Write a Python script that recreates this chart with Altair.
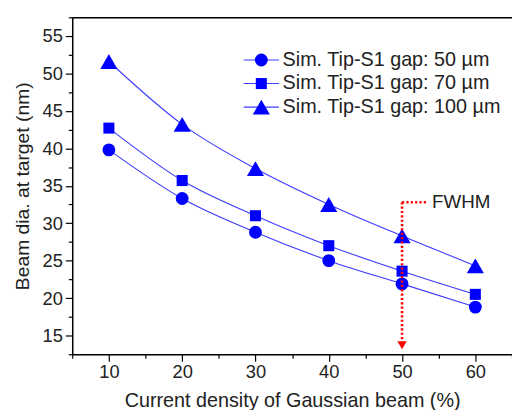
import altair as alt
import pandas as pd

# ---- data ----
x_vals = [10, 20, 30, 40, 50, 60]
series_names = ["Sim. Tip-S1 gap: 50 µm", "Sim. Tip-S1 gap: 70 µm", "Sim. Tip-S1 gap: 100 µm"]
gap50 = [39.8, 33.3, 28.8, 25.0, 21.9, 18.8]
gap70 = [42.7, 35.7, 31.0, 27.0, 23.6, 20.5]
gap100 = [51.6, 43.2, 37.3, 32.5, 28.3, 24.3]

fwhm_x = 50
fwhm_top = 32.8
fwhm_bottom = 14.3
fwhm_arrow = 13.7
fwhm_hline_end = 53.3
fwhm_label_x = 54.1
fwhm_label = "FWHM"

x_ticks = [5, 10, 15, 20, 25, 30, 35, 40, 45, 50, 55, 60, 65]
y_ticks = [12.5, 15, 17.5, 20, 22.5, 25, 27.5, 30, 32.5, 35, 37.5, 40, 42.5, 45, 47.5, 50, 52.5, 55, 57.5]

# legend key layout (data units, inside the plot, upper right)
legend_rows_y = [51.8, 48.65, 45.5]
legend_line_x = [28.4, 33.2]
legend_marker_x = 30.8
legend_text_x = 33.7

rows = []
for name, vals in zip(series_names, [gap50, gap70, gap100]):
    for xv, yv in zip(x_vals, vals):
        rows.append({"x": xv, "y": yv, "series": name})
df = pd.DataFrame(rows)

leg_df = pd.DataFrame({
    "series": series_names,
    "y": legend_rows_y,
    "x": [legend_marker_x] * 3,
    "x1": [legend_line_x[0]] * 3,
    "x2": [legend_line_x[1]] * 3,
    "tx": [legend_text_x] * 3,
})

BLUE = "#0000ff"
LINE_BLUE = "#3b3bff"
FONT = "Liberation Sans"
TXT = "#222222"

xscale = alt.Scale(domain=[5, 65], nice=False, zero=False)
yscale = alt.Scale(domain=[12.5, 57.5], nice=False, zero=False)

x_axis = alt.Axis(
    title="Current density of Gaussian beam (%)",
    values=x_ticks, tickCount=100, labelOverlap=False, labelFlush=False,
    format="d",
    labelExpr="datum.value % 10 === 0 ? datum.label : ''",
    tickSize=alt.condition("datum.value % 10 === 0", alt.value(7), alt.value(4)),
    grid=False, domainColor="black", domainWidth=1.5, tickColor="black", tickWidth=1.2,
    labelFont=FONT, labelFontSize=18.5, labelColor=TXT, labelPadding=2,
    titleFont=FONT, titleFontSize=20, titleFontWeight="normal", titleColor=TXT, titlePadding=9,
)
y_axis = alt.Axis(
    title="Beam dia. at target (nm)",
    values=y_ticks, tickCount=100, labelOverlap=False, labelFlush=False,
    format="d",
    labelExpr="datum.value % 5 === 0 ? datum.label : ''",
    tickSize=alt.condition("datum.value % 5 === 0", alt.value(7), alt.value(4)),
    grid=False, domainColor="black", domainWidth=1.5, tickColor="black", tickWidth=1.2,
    labelFont=FONT, labelFontSize=18.5, labelColor=TXT, labelPadding=3,
    titleFont=FONT, titleFontSize=19.5, titleFontWeight="normal", titleColor=TXT, titlePadding=10,
)
top_axis = alt.Axis(orient="top", title=None, labels=False, ticks=False, grid=False,
                    domainColor="black", domainWidth=1.5)

lines = alt.Chart(df).mark_line(interpolate="monotone", strokeWidth=1.1, color=LINE_BLUE).encode(
    x=alt.X("x:Q", scale=xscale, axis=x_axis),
    y=alt.Y("y:Q", scale=yscale, axis=y_axis),
    detail="series:N",
)

point_shapes = ["circle", "square", "triangle-up"]
point_sizes = [170, 125, 300]
point_layers = []
for name, shp, sz in zip(series_names, point_shapes, point_sizes):
    for src in (df, leg_df):
        point_layers.append(
            alt.Chart(src).transform_filter(alt.datum.series == name).mark_point(
                filled=True, opacity=1, color=BLUE, shape=shp, size=sz
            ).encode(
                x=alt.X("x:Q", scale=xscale, axis=None),
                y=alt.Y("y:Q", scale=yscale),
            )
        )

leg_lines = alt.Chart(leg_df).mark_rule(color=LINE_BLUE, strokeWidth=1.1).encode(
    x=alt.X("x1:Q", scale=xscale, axis=top_axis),
    x2="x2:Q",
    y=alt.Y("y:Q", scale=yscale),
)
leg_text = alt.Chart(leg_df).mark_text(align="left", baseline="middle", font=FONT, fontSize=20,
                                       color=TXT).encode(
    x=alt.X("tx:Q", scale=xscale, axis=None),
    y=alt.Y("y:Q", scale=yscale),
    text="series:N",
)

vline_df = pd.DataFrame({"x": [fwhm_x, fwhm_x], "y": [fwhm_top, fwhm_bottom]})
hline_df = pd.DataFrame({"x": [fwhm_x, fwhm_hline_end], "y": [fwhm_top, fwhm_top]})
arrow_df = pd.DataFrame({"x": [fwhm_x], "y": [fwhm_arrow]})
label_df = pd.DataFrame({"x": [fwhm_label_x], "y": [fwhm_top], "t": [fwhm_label]})

RED = "#ff0000"
vline = alt.Chart(vline_df).mark_line(color=RED, strokeWidth=2.6, strokeDash=[2.2, 2.2]).encode(
    x=alt.X("x:Q", scale=xscale, axis=None), y=alt.Y("y:Q", scale=yscale))
hline = alt.Chart(hline_df).mark_line(color=RED, strokeWidth=2.6, strokeDash=[2.2, 2.2]).encode(
    x=alt.X("x:Q", scale=xscale, axis=None), y=alt.Y("y:Q", scale=yscale))
arrow = alt.Chart(arrow_df).mark_point(shape="triangle-down", filled=True, opacity=1, color=RED, size=90).encode(
    x=alt.X("x:Q", scale=xscale, axis=None), y=alt.Y("y:Q", scale=yscale))
label = alt.Chart(label_df).mark_text(align="left", baseline="middle", font=FONT, fontSize=19, color=TXT).encode(
    x=alt.X("x:Q", scale=xscale, axis=None), y=alt.Y("y:Q", scale=yscale), text="t:N")

chart = alt.layer(lines, leg_lines, *point_layers, leg_text, vline, hline, arrow, label).resolve_axis(
    x="independent"
).properties(
    width=445, height=341,
    autosize=alt.AutoSizeParams(type="none"),
    padding={"left": 65, "top": 7, "right": 0, "bottom": 54},
).configure_view(stroke=None).configure(background="white")

chart.save("out.html", embed_options={"renderer": "svg", "actions": False})
